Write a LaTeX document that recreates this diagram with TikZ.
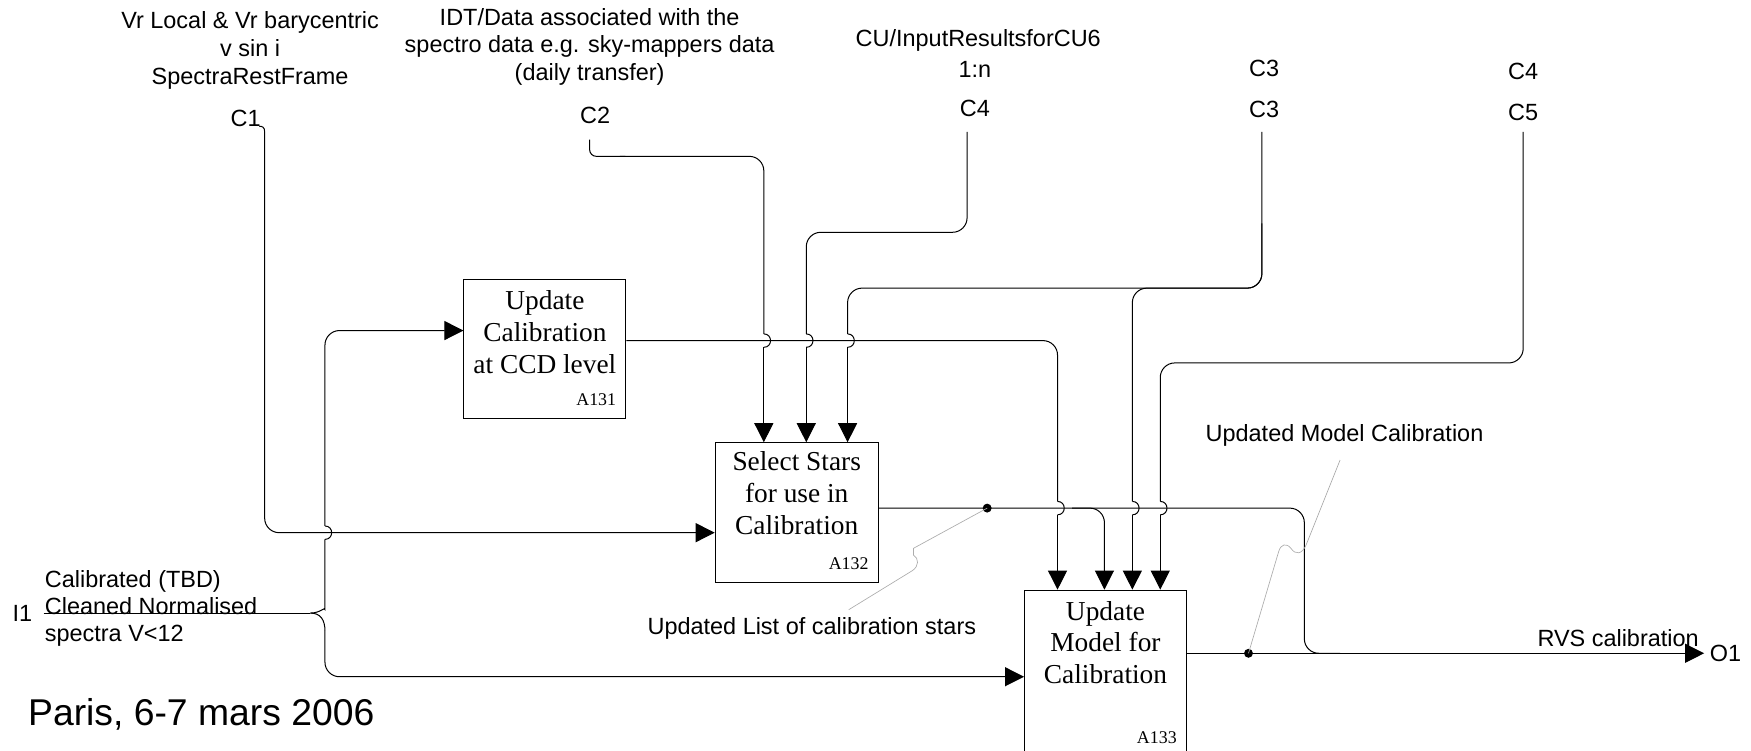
\documentclass[tikz,border=0pt]{standalone}
\usepackage{fontspec}
\setmainfont{Liberation Serif}
\newfontfamily\arialf{Liberation Sans}
\usetikzlibrary{arrows.meta}
\begin{document}
\begin{tikzpicture}[x=1pt,y=-1pt,
  wire/.style={line width=0.9pt, rounded corners=13pt},
  arr/.style={wire, -{Triangle[length=17pt,width=17pt]}},
  hop/.style={to path={.. controls ([xshift=8pt]\tikztostart) and ([xshift=8pt]\tikztotarget) .. (\tikztotarget)}},
  box/.style={draw, line width=0.9pt, anchor=north west, inner sep=0pt},
  boxtext/.style={align=center, inner sep=0pt, anchor=north, font=\fontsize{24.5pt}{28.5pt}\selectfont},
  idlab/.style={inner sep=0pt, anchor=base east, font=\fontsize{16pt}{18pt}\selectfont},
  lbl/.style={inner sep=0pt, font=\arialf\fontsize{21pt}{25pt}\selectfont},
  lead/.style={draw=gray!65, line width=0.6pt},
  jdot/.style={circle, fill, inner sep=0pt, minimum size=8pt},
]
\path[use as bounding box] (0,0) rectangle (1568,672.5);
\clip (0,0) rectangle (1568,672.5);

% boxes
\node[box, minimum width=145pt, minimum height=124.6pt] (A131) at (415,250) {};
\node[box, minimum width=146pt, minimum height=125pt] (A132) at (640,396) {};
\node[box, minimum width=145pt, minimum height=149pt] (A133) at (917,528) {};
\node[boxtext] (A131t) at ([yshift=-10pt]A131.north) {Update\\Calibration\\at CCD level};
\node[boxtext] (A132t) at ([yshift=-8pt]A132.north) {Select Stars\\for use in\\Calibration};
\node[boxtext] (A133t) at ([yshift=-10pt]A133.north) {Update\\Model for\\Calibration};
\node[idlab] (A131i) at ([xshift=-9pt,yshift=12pt]A131.south east) {A131};
\node[idlab] (A132i) at ([xshift=-9pt,yshift=12pt]A132.south east) {A132};
\node[idlab] (A133i) at ([xshift=-9pt,yshift=12pt]A133.south east) {A133};

% top labels
\node[lbl, align=center] (t1) at (224,45) {Vr Local \& Vr barycentric\\v sin i\\SpectraRestFrame};
\node[lbl, align=center] (t2) at (528,42) {IDT/Data associated with the\\spectro data e.g. sky-mappers data\\(daily transfer)};
\node[lbl] (t3) at (876,36) {CU/InputResultsforCU6};
\node[lbl] (t3b) at (873,62) {1:n};
\node[lbl] (C1l) at (220,106) {C1};
\node[lbl] (C2l) at (533,103) {C2};
\node[lbl] (C4l) at (873,97) {C4};
\node[lbl] (C3a) at (1132,61) {C3};
\node[lbl] (C3l) at (1132,98) {C3};
\node[lbl] (C4b) at (1364,64) {C4};
\node[lbl] (C5l) at (1364,101) {C5};

% left labels
\node[lbl] (I1l) at (20,549) {I1};
\node[lbl, align=left, anchor=west, font=\arialf\fontsize{21pt}{24pt}\selectfont] (I1t) at (40,545) {Calibrated (TBD)\\Cleaned Normalised\\spectra V<12};
\node[inner sep=0pt, anchor=west, font=\arialf\fontsize{33.4pt}{40pt}\selectfont] (paris) at (25,640) {Paris, 6-7 mars 2006};

% other labels
\node[lbl] (ulist) at (727,563) {Updated List of calibration stars};
\node[lbl] (umodel) at (1204,390) {Updated Model Calibration};
\node[lbl] (rvs) at (1449,571) {RVS calibration};
\node[lbl, anchor=west] (O1l) at (1531,585) {O1};

% coordinates
\coordinate (c1s) at (237,118);
\coordinate (c2s) at (528,125);
\coordinate (c4s) at (866,118);
\coordinate (c3s) at (1130,118);
\coordinate (c5s) at (1364,118);
\coordinate (i1s) at (39,549);
\coordinate (i1j) at (278,549);
\coordinate (d1) at (884,455);
\coordinate (d2) at (1118,585);

% C1
\draw[line width=0.9pt] (232,113) .. controls (235,113) and (237,114) .. (c1s);
\draw[arr] (c1s) -- (237,477) -- (A132.west |- 0,477);

% I1
\draw[wire] (i1s) -- (i1j);
\draw[wire] (i1j) .. controls (287,549) and (291,543) .. (291,533) -- (291,483);
\draw[wire] (291,483) to[hop] (291,471);
\draw[arr] (291,471) -- (291,296) -- (A131.west |- 0,296);
\draw[wire] (i1j) .. controls (287,549) and (291,555) .. (291,565);
\draw[arr] (291,565) -- (291,606) -- (A133.west |- 0,606);

% C2
\draw[wire, rounded corners=6pt] (c2s) -- (528,140) -- (560,140);
\draw[wire] (555,140) -- (684,140) -- (684,299);
\draw[wire] (684,299) to[hop] (684,311);
\draw[arr] (684,311) -- (684,0 |- A132.north);

% C4
\draw[wire] (c4s) -- (866,208) -- (722,208) -- (722,299);
\draw[wire] (722,299) to[hop] (722,311);
\draw[arr] (722,311) -- (722,0 |- A132.north);

% C3 to A132
\draw[wire] (c3s) -- (1130,258) -- (759,258) -- (759,299);
\draw[wire] (759,299) to[hop] (759,311);
\draw[arr] (759,311) -- (759,0 |- A132.north);
% C3 to A133
\draw[wire] (1130,200) -- (1130,258) -- (1014,258) -- (1014,449);
\draw[wire] (1014,449) to[hop] (1014,461);
\draw[arr] (1014,461) -- (1014,0 |- A133.north);

% C5
\draw[wire] (c5s) -- (1364,325) -- (1039,325) -- (1039,449);
\draw[wire] (1039,449) to[hop] (1039,461);
\draw[arr] (1039,461) -- (1039,0 |- A133.north);

% A131 output
\draw[wire] (A131.east |- 0,305) -- (947,305) -- (947,449);
\draw[wire] (947,449) to[hop] (947,461);
\draw[arr] (947,461) -- (947,0 |- A133.north);

% A132 output
\draw[wire] (A132.east |- 0,455) -- (1168,455) -- (1168,585) -- (1200,585);
\draw[arr] (960,455) -- (989,455) -- (989,0 |- A133.north);

% A133 output
\draw[arr] (A133.east |- 0,585) -- (1526,585);

% junction dots
\node[jdot] (dot1) at (d1) {};
\node[jdot] (dot2) at (d2) {};

% leaders
\draw[lead] (dot1.center) -- (818,491) -- (818,497) .. controls (823,500) and (823,507) .. (817,511) -- (760,546);
\draw[lead] (1200,412) -- (1170,487) .. controls (1166,497) and (1160,497) .. (1156,491) .. controls (1152,486) and (1147,487) .. (1145,494) -- (dot2.center);
\end{tikzpicture}
\end{document}
